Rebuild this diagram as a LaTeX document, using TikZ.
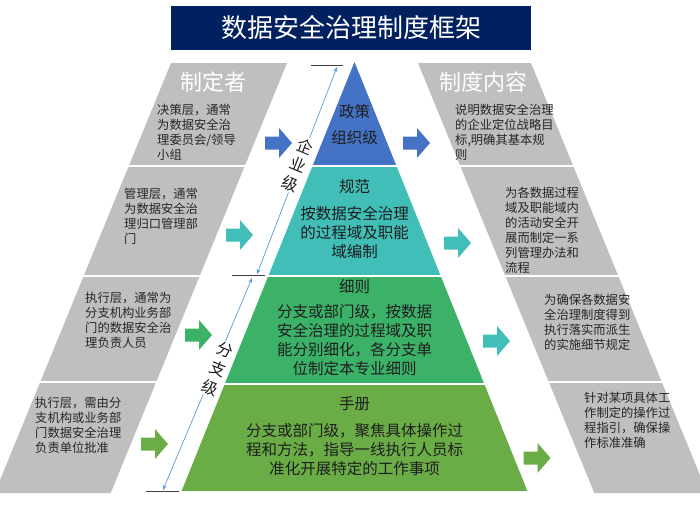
\documentclass[tikz,border=0pt]{standalone}
\usepackage{fontspec}
\setmainfont{Noto Sans CJK SC}
\usetikzlibrary{arrows.meta}
\definecolor{navy}{RGB}{0,32,96}
\definecolor{panelgray}{RGB}{191,191,191}
\definecolor{pblue}{RGB}{68,114,196}
\definecolor{pteal}{RGB}{65,190,184}
\definecolor{pgreenA}{RGB}{60,178,105}
\definecolor{pgreenB}{RGB}{106,173,70}
\definecolor{dimblue}{RGB}{91,155,213}
\definecolor{txtdark}{RGB}{30,30,30}
\definecolor{txtgray}{RGB}{38,38,38}
\tikzset{
  blockarrow/.pic={\fill[pic actions] (-13.5,-6.5) -- (0.5,-6.5) -- (0.5,-15) -- (13.5,0) -- (0.5,15) -- (0.5,6.5) -- (-13.5,6.5) -- cycle;},
  paneltext/.style={anchor=north west, inner sep=0pt, align=left, text=txtgray, font=\fontsize{12.3}{15}\selectfont},
  pyrtitle/.style={inner sep=0pt, text=txtdark, font=\fontsize{15.5}{26}\selectfont, align=center},
  pyrtext/.style={inner sep=0pt, text=txtdark, font=\fontsize{15.5}{19}\selectfont, align=center},
  header/.style={inner sep=0pt, text=white, font=\fontsize{22}{26}\selectfont},
  dimline/.style={draw=dimblue, line width=0.7pt, {Stealth[length=5pt,width=4pt]}-{Stealth[length=5pt,width=4pt]}},
  tick/.style={draw=black!75, line width=0.9pt},
  divider/.style={draw=white, line width=1.6pt},
  sidelabel/.style={rotate=-22, fill=white, inner sep=1.5pt, align=center, text=txtdark, font=\fontsize{16}{20}\selectfont}
}
\begin{document}
\begin{tikzpicture}[x=1pt,y=-1pt]
\useasboundingbox (0,0) rectangle (700,507);
% title
\fill[navy] (171,6) rectangle (531,50);
\node[inner sep=0pt, text=white, font=\fontsize{26}{30}\selectfont] (title) at (351,28) {数据安全治理制度框架};
% gray panels
\begin{scope}
\clip (0,0) rectangle (700,507);
\fill[panelgray] (171,63) -- (287,63) -- (110.7,493) -- (-5.3,493) -- cycle;
\fill[panelgray] (418,63) -- (531,63) -- (707.3,493) -- (594.3,493) -- cycle;
\end{scope}
\foreach \yy in {166,276,382} {
  \draw[divider] (-10,\yy) -- (300,\yy);
  \draw[divider] (440,\yy) -- (710,\yy);
}
% pyramid
\fill[pblue] (354.5,62) -- (396.5,166) -- (312.5,166) -- cycle;
\fill[pteal] (312.5,166) -- (396.5,166) -- (440.7,276) -- (268.3,276) -- cycle;
\fill[pgreenA] (268.3,276) -- (440.7,276) -- (484.3,384) -- (224.7,384) -- cycle;
\fill[pgreenB] (224.7,384) -- (484.3,384) -- (527.4,491) -- (181.6,491) -- cycle;
\draw[divider] (300,166) -- (410,166);
\draw[divider] (255,276) -- (455,276);
\draw[divider] (210,384) -- (500,384);
% headers
\node[header] (hl) at (213,82) {制定者};
\node[header] (hr) at (483.5,82) {制度内容};
% panel texts
\node[paneltext] (l1) at (157,104) {决策层，通常\\为数据安全治\\理委员会/领导\\小组};
\node[paneltext] (l2) at (124,188) {管理层，通常\\为数据安全治\\理归口管理部\\门};
\node[paneltext] (l3) at (85,292) {执行层，通常为\\分支机构业务部\\门的数据安全治\\理负责人员};
\node[paneltext] (l4) at (35,397) {执行层，需由分\\支机构或业务部\\门数据安全治理\\负责单位批准};
\node[paneltext] (r1) at (455,104) {说明数据安全治理\\的企业定位战略目\\标,明确其基本规\\则};
\node[paneltext] (r2) at (505,187) {为各数据过程\\域及职能域内\\的活动安全开\\展而制定一系\\列管理办法和\\流程};
\node[paneltext] (r3) at (544,294) {为确保各数据安\\全治理制度得到\\执行落实而派生\\的实施细节规定};
\node[paneltext] (r4) at (584,392) {针对某项具体工\\作制定的操作过\\程指引，确保操\\作标准准确};
% pyramid texts
\node[pyrtitle] (p1) at (354.5,125) {政策\\组织级};
\node[pyrtitle] (p2t) at (354.5,187) {规范};
\node[pyrtext] (p2) at (354.5,233) {按数据安全治理\\的过程域及职能\\域编制};
\node[pyrtitle] (p3t) at (354.5,287) {细则};
\node[pyrtext] (p3) at (354.5,340.5) {分支或部门级，按数据\\安全治理的过程域及职\\能分别细化，各分支单\\位制定本专业细则};
\node[pyrtitle] (p4t) at (354.5,404) {手册};
\node[pyrtext] (p4) at (354.5,449.5) {分支或部门级，聚焦具体操作过\\程和方法，指导一线执行人员标\\准化开展特定的工作事项};
% block arrows
\pic[fill=pblue] (al1) at (278.5,143) {blockarrow};
\pic[fill=pteal] (al2) at (239.5,235) {blockarrow};
\pic[fill=pgreenA] (al3) at (198.5,335) {blockarrow};
\pic[fill=pgreenB] (al4) at (154.5,444) {blockarrow};
\pic[fill=pblue] (ar1) at (416.5,143) {blockarrow};
\pic[fill=pteal] (ar2) at (457.5,243) {blockarrow};
\pic[fill=pteal] (ar3) at (496.5,341) {blockarrow};
\pic[fill=pgreenB] (ar4) at (537,458) {blockarrow};
% dimension lines
\coordinate (e1) at (337,67);
\coordinate (e2) at (257,274);
\coordinate (b1) at (252,278);
\coordinate (b2) at (163,490);
\draw[dimline] (e2) -- (e1);
\draw[dimline] (b2) -- (b1);
\coordinate (t1a) at (311,65); \coordinate (t1b) at (343,65);
\coordinate (t2a) at (232,275); \coordinate (t2b) at (265,275);
\coordinate (t3a) at (146,491); \coordinate (t3b) at (179,491);
\draw[tick] (t1a) -- (t1b);
\draw[tick] (t2a) -- (t2b);
\draw[tick] (t3a) -- (t3b);
\node[sidelabel] (ent) at (298,165) {企\\业\\级};
\node[sidelabel] (br) at (218,369) {分\\支\\级};
\end{tikzpicture}
\end{document}
